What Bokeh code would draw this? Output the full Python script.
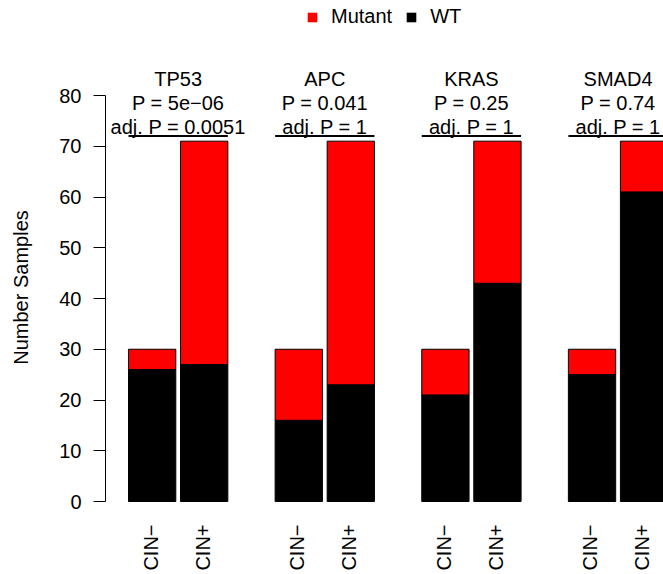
import math

from bokeh.core.properties import value
from bokeh.embed import file_html
from bokeh.models import (ColumnDataSource, FixedTicker, Legend, LegendItem,
                          Range1d)
from bokeh.plotting import figure
from bokeh.resources import INLINE

# ---- data -------------------------------------------------------------
genes = ["TP53", "APC", "KRAS", "SMAD4"]
groups = ["CIN−", "CIN+"]
wt_cin_neg = [26, 16, 21, 25]
mut_cin_neg = [4, 14, 9, 5]
wt_cin_pos = [27, 23, 43, 61]
mut_cin_pos = [44, 48, 28, 10]
p_values = ["5e−06", "0.041", "0.25", "0.74"]
adj_p_values = ["0.0051", "1", "1", "1"]
y_ticks = [0, 10, 20, 30, 40, 50, 60, 70, 80]

FONT = "Liberation Sans"
FS = "20px"
MUT_COLOR = "#FF0000"
WT_COLOR = "#000000"

# bar layout in axis units: bars 10 wide, 1 apart within a gene, 10 between genes
BAR_W, INNER, OUTER = 10, 1, 10
PERIOD = 2 * BAR_W + INNER + OUTER

x, wt, total, grp = [], [], [], []
group_left, group_right, group_mid = [], [], []
for g in range(len(genes)):
    left = OUTER + g * PERIOD
    group_left.append(left)
    group_right.append(left + 2 * BAR_W + INNER)
    group_mid.append(left + (2 * BAR_W + INNER) / 2)
    pairs = [(wt_cin_neg[g], mut_cin_neg[g]), (wt_cin_pos[g], mut_cin_pos[g])]
    for k, (w_n, m_n) in enumerate(pairs):
        x.append(left + k * (BAR_W + INNER) + BAR_W / 2)
        wt.append(w_n)
        total.append(w_n + m_n)
        grp.append(groups[k])

src = ColumnDataSource(dict(x=x, wt=wt, total=total, zero=[0] * len(x)))

# the frame covers the whole canvas height; the y axis is bounded to 0..80
PPU_Y = 406 / 80.0   # pixels per sample
PPU_X = 4.73         # pixels per x unit
W, H = 663, 574
TOP_PAD, BOTTOM_PAD = 95, 73

p = figure(width=W, height=H, output_backend="svg", toolbar_location=None,
           x_range=Range1d(OUTER - 23 / PPU_X, OUTER - 23 / PPU_X + (W - 105) / PPU_X),
           y_range=Range1d(-BOTTOM_PAD / PPU_Y, 80 + TOP_PAD / PPU_Y),
           x_axis_location=None,
           min_border_left=105, min_border_right=0,
           min_border_top=0, min_border_bottom=0)
p.outline_line_color = None
p.xgrid.visible = False
p.ygrid.visible = False
p.background_fill_color = "white"
p.border_fill_color = "white"

# stacked bars: WT at the bottom, mutant on top
p.vbar(x="x", width=BAR_W, bottom=0, top="wt", source=src,
       fill_color=WT_COLOR, line_color="black", line_width=1)
p.vbar(x="x", width=BAR_W, bottom="wt", top="total", source=src,
       fill_color=MUT_COLOR, line_color="black", line_width=1)

# test brackets above each gene pair
bracket_y = max(total) + 1
p.segment(x0=group_left, x1=group_right, y0=[bracket_y] * len(genes),
          y1=[bracket_y] * len(genes), line_color="black", line_width=2)

# gene name and p-values stacked above each bracket
tx, ty, tt = [], [], []
for g, gene in enumerate(genes):
    lines = [gene, f"P = {p_values[g]}", f"adj. P = {adj_p_values[g]}"]
    for i, txt in enumerate(lines):
        tx.append(group_mid[g])
        ty.append(bracket_y + (9.5 + 24 * (2 - i)) / PPU_Y)
        tt.append(txt)
p.text(x=tx, y=ty, text=tt, text_align="center", text_baseline="alphabetic",
       text_font=value(FONT), text_font_size=FS, text_color="black")

# rotated group labels under each bar
p.text(x=[v - 1.6 / PPU_X for v in x], y=[-23 / PPU_Y] * len(x), text=grp,
       angle=math.pi / 2, text_align="right", text_baseline="alphabetic",
       text_font=value(FONT), text_font_size=FS, text_color="black")

# y axis
yax = p.yaxis[0]
yax.bounds = (0, 80)
yax.ticker = FixedTicker(ticks=y_ticks)
yax.axis_label = "Number Samples"
yax.axis_label_text_font = FONT
yax.axis_label_text_font_size = FS
yax.axis_label_text_font_style = "normal"
yax.axis_label_text_color = "black"
yax.axis_label_standoff = 24
yax.major_label_text_font = FONT
yax.major_label_text_font_size = FS
yax.major_label_text_color = "black"
yax.major_label_standoff = 12
yax.major_tick_out = 12
yax.major_tick_in = 0
yax.minor_tick_line_color = None
yax.axis_line_color = "black"
yax.major_tick_line_color = "black"

# legend keys: plain squares without outline (zero-height bars, nothing drawn)
key_mut = p.vbar(x="x", width=BAR_W, bottom="zero", top="zero", source=src,
                 fill_color=MUT_COLOR, line_color=None)
key_wt = p.vbar(x="x", width=BAR_W, bottom="zero", top="zero", source=src,
                fill_color=WT_COLOR, line_color=None)
legend = Legend(items=[LegendItem(label="Mutant", renderers=[key_mut], index=0),
                       LegendItem(label="WT", renderers=[key_wt], index=0)],
                orientation="horizontal", location=(201, H - 28),
                glyph_width=12, glyph_height=12, label_standoff=13, spacing=13,
                padding=0, margin=0, border_line_color=None,
                background_fill_alpha=0,
                label_text_font=FONT, label_text_font_size=FS,
                label_text_color="black")
p.add_layout(legend)

open("out.html", "w").write(file_html(p, INLINE))
